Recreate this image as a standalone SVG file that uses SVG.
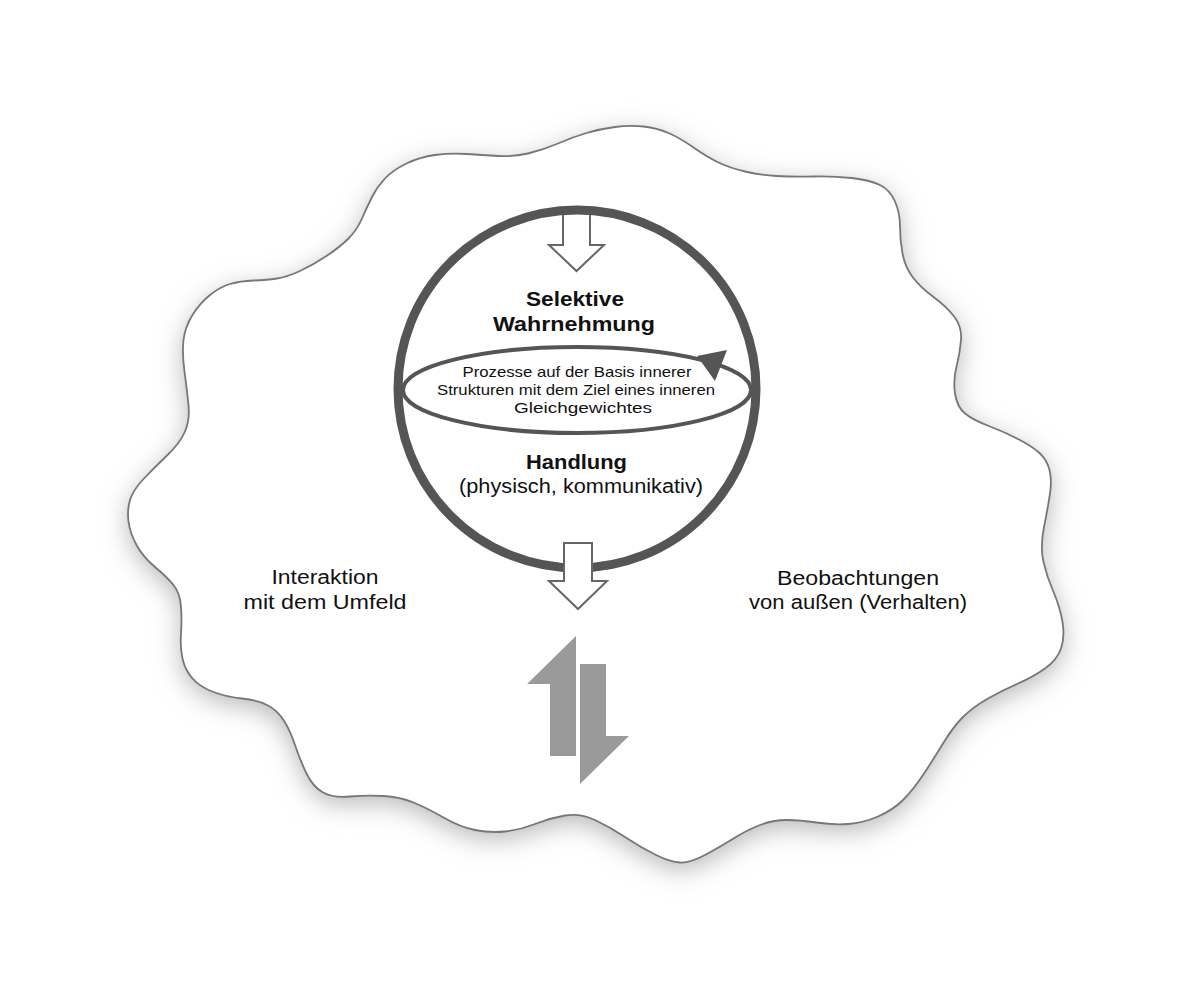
<svg xmlns="http://www.w3.org/2000/svg" width="1192" height="992" viewBox="0 0 1192 992">
<defs>
<filter id="soft" x="-20%" y="-20%" width="140%" height="140%">
<feGaussianBlur stdDeviation="13"/>
</filter>
<path id="cloudShape" d="M136.5,545 Q130,533 128.5,521.5 Q127,510 130,500 Q133,490 144,478.5 Q155,467 167.5,455 Q180,443 185,431.5 Q190,420 188.5,405 Q187,390 184.5,371.5 Q182,353 183.5,340 Q185,327 192.5,315 Q200,303 210,295 Q220,287 230,284 Q240,281 253.5,280.5 Q267,280 277,278.5 Q287,277 300,271 Q313,265 326.5,256 Q340,247 348.5,238.5 Q357,230 362,218.5 Q367,207 372,197 Q377,187 385,178.5 Q393,170 406.5,163.5 Q420,157 435,155 Q450,153 466.5,154 Q483,155 498,156 Q513,157 528,153.5 Q543,150 558,143.5 Q573,137 586.5,133 Q600,129 615,127 Q630,125 643.5,126.5 Q657,128 668.5,133 Q680,138 693.5,147.5 Q707,157 718.5,162.5 Q730,168 745,171.5 Q760,175 776.5,176 Q793,177 813,176.5 Q833,176 851.5,178 Q870,180 880,185 Q890,190 895,201.5 Q900,213 900,226.5 Q900,240 902.5,253.5 Q905,267 912.5,277 Q920,287 933.5,297 Q947,307 954.5,317 Q962,327 961,340 Q960,353 956.5,366.5 Q953,380 955,393.5 Q957,407 965,413.5 Q973,420 990,426.5 Q1007,433 1020,440 Q1033,447 1040,453.5 Q1047,460 1049.5,470 Q1052,480 1050,493.5 Q1048,507 1044,527 Q1040,547 1043.5,562 Q1047,577 1053.5,592 Q1060,607 1062.5,622 Q1065,637 1061,648.5 Q1057,660 1045,668.5 Q1033,677 1018,683.5 Q1003,690 988,698.5 Q973,707 963,717 Q953,727 943,743.5 Q933,760 923,775 Q913,790 903,800 Q893,810 878,816.5 Q863,823 848,824 Q833,825 816.5,822.5 Q800,820 786.5,820 Q773,820 760,825 Q747,830 733.5,838.5 Q720,847 705,855 Q690,863 680,862.5 Q670,862 655,854.5 Q640,847 625,837 Q610,827 595,820 Q580,813 565,815.5 Q550,818 535,824 Q520,830 505,831.5 Q490,833 475,830 Q460,827 443.5,817.5 Q427,808 413.5,802.5 Q400,797 383.5,796 Q367,795 350,796.5 Q333,798 323,792.5 Q313,787 306.5,773.5 Q300,760 295,745 Q290,730 283.5,720 Q277,710 267,705 Q257,700 242,698.5 Q227,697 213.5,692 Q200,687 192.5,678.5 Q185,670 182.5,658.5 Q180,647 181,633.5 Q182,620 181,606.5 Q180,593 173.5,585 Q167,577 155,567 Q143,557 136.5,545 Z"/>
</defs>
<style>
.txt{font-family:"Liberation Sans",Arial,Helvetica,sans-serif;fill:#111;text-anchor:middle}
.bold{font-weight:bold;font-size:19.5px}
.reg{font-size:19.5px}
.small{font-size:14.5px}
.hollow{fill:#fff;stroke:#666;stroke-width:2;stroke-linejoin:miter}
.gray{fill:#9a9a9a;stroke:none}
</style>
<rect width="1192" height="992" fill="#fff"/>

<g id="cloud">
<use href="#cloudShape" fill="#b8b8b8" filter="url(#soft)" transform="translate(0,7)"/>
<use href="#cloudShape" fill="#fff" stroke="#777" stroke-width="1.8"/>
</g>

<g id="connectors">
<polygon id="arrow-in" class="hollow" points="563,211 590,211 590,245 604,245 576.5,271 549,245 563,245"/>
</g>

<g id="sphere">
<circle cx="577" cy="389" r="179" fill="none" stroke="#555" stroke-width="9"/>
</g>

<g id="cycle">
<ellipse cx="577" cy="390" rx="174" ry="43" fill="none" stroke="#555" stroke-width="4"/>
<polygon points="697,356 727,350 715,381" fill="#555"/>
</g>

<g id="connectors-out">
<polygon id="arrow-out" class="hollow" points="564,543 592,543 592,581 607,581 578,609 549,581 564,581"/>
<polygon id="arrow-up" class="gray" points="576,636 576,756 550,756 550,684 527,684"/>
<polygon id="arrow-down" class="gray" points="580,664 606,664 606,736 629,736 580,784"/>
</g>

<g id="label-wahrnehmung">
<text class="txt bold" x="575" y="306" textLength="98" lengthAdjust="spacingAndGlyphs">Selektive</text>
<text class="txt bold" x="574" y="331" textLength="162" lengthAdjust="spacingAndGlyphs">Wahrnehmung</text>
</g>

<g id="label-prozesse">
<text class="txt small" x="577" y="377" textLength="229" lengthAdjust="spacingAndGlyphs">Prozesse auf der Basis innerer</text>
<text class="txt small" x="576" y="395" textLength="278" lengthAdjust="spacingAndGlyphs">Strukturen mit dem Ziel eines inneren</text>
<text class="txt small" x="583" y="413" textLength="138" lengthAdjust="spacingAndGlyphs">Gleichgewichtes</text>
</g>

<g id="label-handlung">
<text class="txt bold" x="576.5" y="469" textLength="101" lengthAdjust="spacingAndGlyphs">Handlung</text>
<text class="txt reg" x="581" y="493" textLength="244" lengthAdjust="spacingAndGlyphs">(physisch, kommunikativ)</text>
</g>

<g id="label-interaktion">
<text class="txt reg" x="325" y="584" textLength="107" lengthAdjust="spacingAndGlyphs">Interaktion</text>
<text class="txt reg" x="325" y="609" textLength="163" lengthAdjust="spacingAndGlyphs">mit dem Umfeld</text>
</g>

<g id="label-beobachtungen">
<text class="txt reg" x="858" y="585" textLength="162" lengthAdjust="spacingAndGlyphs">Beobachtungen</text>
<text class="txt reg" x="858" y="609" textLength="218" lengthAdjust="spacingAndGlyphs">von außen (Verhalten)</text>
</g>
</svg>
